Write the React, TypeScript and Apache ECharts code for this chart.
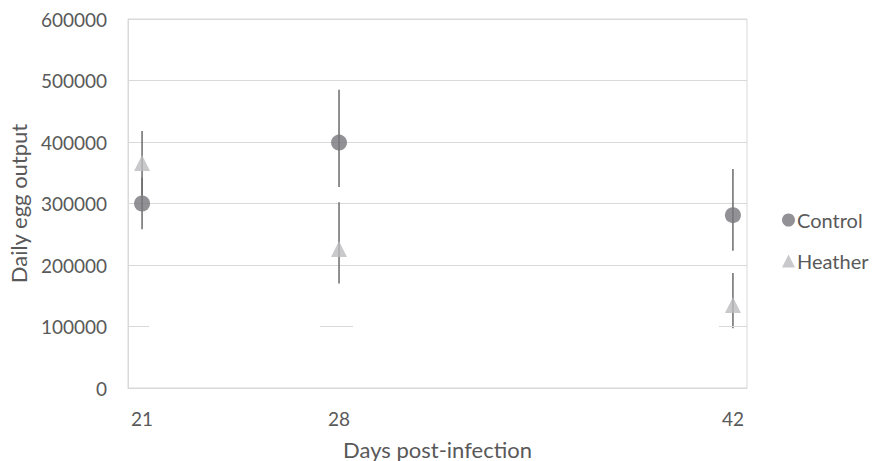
import React, { useEffect, useRef } from "react";
import * as echarts from "echarts";

// Days post-infection at which egg output was measured
const days = [21, 28, 42];

// Mean daily egg output per group
const controlMean = [300000, 399000, 281000];
const heatherMean = [366000, 226000, 135000];

// Error bar extents (lower / upper) per group
const controlLow = [258000, 327000, 223000];
const controlHigh = [342000, 485000, 356000];
const heatherLow = [314000, 170000, 97000];
const heatherHigh = [418000, 302000, 187000];

// Y axis ticks
const yTicks = [0, 100000, 200000, 300000, 400000, 500000, 600000];

// Short visible pieces of the 100000 gridline (x ranges, in days)
const gridPieceStart = [20.5, 27.32, 41.5];
const gridPieceEnd = [21.25, 28.5, 42.5];
const gridPieceLevel = 100000;

const FONT = "Lato";
const TEXT = "#595959";
const GRID = "#d9d9d9";

function errorData(lo: number[], hi: number[]) {
  return days.map((d, i) => [d, lo[i], hi[i]]);
}

function errorSeries(name: string, lo: number[], hi: number[]) {
  return {
    type: "custom",
    name: name + " error",
    z: 1,
    silent: true,
    encode: { x: 0, y: [1, 2] },
    data: errorData(lo, hi),
    renderItem: (_params: any, api: any) => {
      const x = api.value(0);
      const a = api.coord([x, api.value(1)]);
      const b = api.coord([x, api.value(2)]);
      return {
        type: "line",
        shape: { x1: a[0], y1: a[1], x2: b[0], y2: b[1] },
        style: { stroke: "#6b6b6b", lineWidth: 1.5 },
      };
    },
  };
}

export default function App() {
  const ref = useRef<HTMLDivElement>(null);

  useEffect(() => {
    if (!ref.current) return;
    const chart = echarts.init(ref.current, undefined, { renderer: "svg" });
    chart.setOption({
      animation: false,
      backgroundColor: "#ffffff",
      textStyle: { fontFamily: FONT },
      grid: {
        left: 128,
        right: 125,
        top: 19,
        bottom: 73,
        outerBoundsMode: "none",
        containLabel: false,
        show: true,
        borderColor: GRID,
        borderWidth: 1,
      },
      legend: {
        orient: "vertical",
        left: 777,
        top: 205,
        itemGap: 21,
        itemWidth: 13,
        itemHeight: 13,
        data: ["Control", "Heather"],
        textStyle: { fontFamily: FONT, fontSize: 20, color: TEXT, padding: [0, 0, 0, -3] },
      },
      xAxis: {
        type: "value",
        min: 20.5,
        max: 42.5,
        name: "Days post-infection",
        nameLocation: "middle",
        nameGap: 50,
        nameTextStyle: { fontFamily: FONT, fontSize: 22, color: TEXT },
        axisLine: { show: true, lineStyle: { color: GRID } },
        axisTick: { show: false },
        splitLine: { show: false },
        axisLabel: {
          customValues: days,
          margin: 21,
          fontFamily: FONT,
          fontSize: 19,
          color: TEXT,
        },
      },
      yAxis: {
        type: "value",
        min: yTicks[0],
        max: yTicks[yTicks.length - 1],
        interval: 100000,
        name: "Daily egg output",
        nameLocation: "middle",
        nameGap: 99,
        nameTextStyle: { fontFamily: FONT, fontSize: 22, color: TEXT },
        axisLine: { show: true, lineStyle: { color: GRID } },
        axisTick: { show: false },
        axisLabel: {
          margin: 21,
          fontFamily: FONT,
          fontSize: 19,
          color: TEXT,
          formatter: (v: number) => String(v),
        },
        splitLine: {
          show: true,
          lineStyle: {
            color: yTicks.map((t) => (t === gridPieceLevel ? "rgba(0,0,0,0)" : GRID)),
            width: 1,
          },
        },
      },
      series: [
        errorSeries("Control", controlLow, controlHigh),
        errorSeries("Heather", heatherLow, heatherHigh),
        {
          type: "scatter",
          name: "Control",
          z: 3,
          symbol: "circle",
          symbolSize: 16,
          itemStyle: { color: "#77767a" },
          data: days.map((d, i) => [d, controlMean[i]]),
          markLine: {
            silent: true,
            symbol: ["none", "none"],
            label: { show: false },
            lineStyle: { color: GRID, type: "solid", width: 1 },
            data: gridPieceStart.map((s, i) => [
              { coord: [s, gridPieceLevel] },
              { coord: [gridPieceEnd[i], gridPieceLevel] },
            ]),
          },
        },
        {
          type: "scatter",
          name: "Heather",
          z: 3,
          symbol: "triangle",
          symbolSize: 16,
          itemStyle: { color: "#bcbcbf" },
          data: days.map((d, i) => [d, heatherMean[i]]),
        },
      ],
    });
    return () => chart.dispose();
  }, []);

  return (
    <div
      ref={ref}
      style={{ position: "absolute", left: 0, top: 0, width: 872, height: 461 }}
    />
  );
}
